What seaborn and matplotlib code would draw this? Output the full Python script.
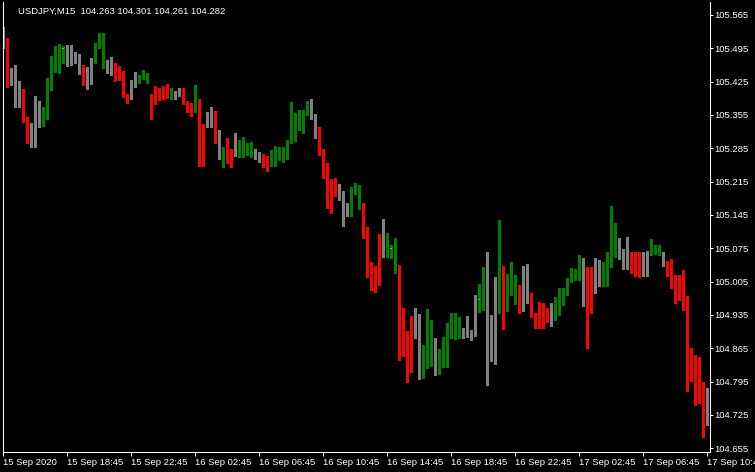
import matplotlib
matplotlib.use('Agg')
import numpy as np
import pandas as pd
import matplotlib.pyplot as plt
import seaborn as sns

# USDJPY M15 bars, 15 Sep 14:45 .. 17 Sep 10:45
kinds = list(
    "nrnnnrrnnn" "gggggdnnnn" "rnngggnnrr" "rrnngggrrr" "rrgnnrrrgr"
    "rnnrngrrng" "gggnnrrggg" "gggggggnnr" "rrrrnnnggg" "rrrrrngdgr"
    "rrrnngggng" "gggggnnnnd" "gnnngrgggr" "nnrrrrrngg" "gggggnrrnn"
    "ggggnnnrrr" "nngggnrrrr" "rrrrrrn"
)

highs = [
    105.540, 105.517, 105.454, 105.460, 105.426, 105.410, 105.351, 105.338, 105.395, 105.384,
    105.372, 105.433, 105.479, 105.500, 105.504, 105.500, 105.502, 105.502, 105.487, 105.483,
    105.460, 105.456, 105.475, 105.506, 105.527, 105.527, 105.470, 105.477, 105.464, 105.458,
    105.447, 105.399, 105.428, 105.445, 105.439, 105.450, 105.443, 105.399, 105.416, 105.412,
    105.416, 105.420, 105.412, 105.405, 105.412, 105.412, 105.384, 105.380, 105.418, 105.389,
    105.336, 105.361, 105.372, 105.363, 105.323, 105.288, 105.307, 105.284, 105.317, 105.302,
    105.309, 105.296, 105.298, 105.284, 105.277, 105.273, 105.269, 105.281, 105.290, 105.288,
    105.288, 105.302, 105.382, 105.359, 105.365, 105.365, 105.384, 105.389, 105.357, 105.330,
    105.284, 105.254, 105.221, 105.223, 105.210, 105.195, 105.170, 105.204, 105.212, 105.208,
    105.170, 105.120, 105.046, 105.038, 105.105, 105.137, 105.107, 105.082, 105.097, 105.040,
    104.950, 104.901, 104.933, 104.950, 104.937, 104.872, 104.948, 104.924, 104.887, 104.864,
    104.889, 104.918, 104.939, 104.939, 104.931, 104.908, 104.933, 104.903, 104.977, 105.000,
    105.036, 105.067, 104.935, 105.015, 105.134, 105.038, 105.021, 105.046, 105.019, 104.998,
    105.038, 105.042, 104.981, 104.939, 104.962, 104.960, 104.950, 104.960, 104.973, 104.992,
    104.992, 105.013, 105.034, 105.032, 105.061, 105.055, 105.036, 105.036, 105.055, 105.050,
    105.046, 105.067, 105.164, 105.128, 105.097, 105.074, 105.099, 105.067, 105.067, 105.067,
    105.067, 105.069, 105.095, 105.082, 105.082, 105.067, 105.048, 105.053, 105.019, 105.019,
    105.029, 104.975, 104.866, 104.851, 104.847, 104.794, 104.782,
]

lows = [
    105.496, 105.414, 105.418, 105.372, 105.372, 105.340, 105.296, 105.288, 105.288, 105.330,
    105.332, 105.347, 105.407, 105.445, 105.443, 105.464, 105.458, 105.460, 105.464, 105.441,
    105.418, 105.410, 105.420, 105.464, 105.496, 105.454, 105.443, 105.439, 105.426, 105.428,
    105.393, 105.380, 105.389, 105.414, 105.422, 105.431, 105.422, 105.347, 105.378, 105.386,
    105.389, 105.391, 105.389, 105.389, 105.395, 105.378, 105.361, 105.353, 105.361, 105.248,
    105.248, 105.330, 105.330, 105.296, 105.263, 105.246, 105.254, 105.246, 105.269, 105.267,
    105.267, 105.271, 105.267, 105.263, 105.256, 105.246, 105.237, 105.248, 105.248, 105.260,
    105.256, 105.263, 105.296, 105.300, 105.323, 105.317, 105.355, 105.347, 105.307, 105.271,
    105.223, 105.160, 105.149, 105.185, 105.176, 105.122, 105.143, 105.143, 105.189, 105.158,
    105.097, 105.015, 104.987, 104.983, 104.998, 105.057, 105.057, 105.055, 105.023, 104.840,
    104.849, 104.794, 104.815, 104.887, 104.801, 104.803, 104.824, 104.828, 104.809, 104.811,
    104.826, 104.826, 104.887, 104.885, 104.887, 104.887, 104.889, 104.882, 104.891, 104.941,
    104.945, 104.788, 104.838, 104.832, 104.939, 104.906, 104.943, 104.977, 104.958, 104.939,
    104.943, 104.960, 104.931, 104.908, 104.908, 104.908, 104.920, 104.912, 104.924, 104.935,
    104.956, 104.977, 105.004, 105.008, 105.008, 104.954, 104.866, 104.939, 104.981, 104.996,
    104.996, 104.996, 105.036, 105.057, 105.053, 105.032, 105.032, 105.023, 105.017, 105.015,
    105.017, 105.017, 105.061, 105.063, 105.061, 105.038, 105.017, 104.992, 104.960, 104.966,
    104.945, 104.775, 104.796, 104.746, 104.750, 104.679, 104.704,
]

opens = [
    105.527, 105.517, 105.437, 105.443, 105.393, 105.393, 105.351, 105.334, 105.347, 105.351,
    105.353, 105.355, 105.414, 105.454, 105.468, 105.496, 105.500, 105.500, 105.475, 105.473,
    105.445, 105.445, 105.475, 105.475, 105.498, 105.458, 105.464, 105.462, 105.452, 105.450,
    105.445, 105.399, 105.422, 105.431, 105.431, 105.435, 105.424, 105.391, 105.399, 105.395,
    105.407, 105.407, 105.391, 105.401, 105.407, 105.410, 105.382, 105.363, 105.361, 105.386,
    105.332, 105.353, 105.353, 105.336, 105.319, 105.271, 105.286, 105.273, 105.279, 105.277,
    105.275, 105.275, 105.269, 105.271, 105.271, 105.263, 105.267, 105.252, 105.252, 105.267,
    105.265, 105.265, 105.298, 105.340, 105.328, 105.328, 105.361, 105.370, 105.353, 105.326,
    105.275, 105.235, 105.204, 105.204, 105.204, 105.183, 105.166, 105.147, 105.200, 105.168,
    105.168, 105.103, 105.034, 105.023, 105.103, 105.101, 105.067, 105.076, 105.036, 105.038,
    104.872, 104.872, 104.914, 104.935, 104.935, 104.824, 104.834, 104.836, 104.834, 104.813,
    104.843, 104.847, 104.908, 104.918, 104.901, 104.901, 104.895, 104.897, 104.966, 104.969,
    104.954, 104.958, 104.910, 104.948, 104.948, 104.996, 104.981, 104.981, 104.981, 104.998,
    105.036, 105.036, 104.966, 104.916, 104.962, 104.958, 104.937, 104.960, 104.954, 104.954,
    104.981, 104.981, 105.008, 105.011, 105.011, 105.050, 104.962, 105.019, 105.040, 105.040,
    105.013, 105.015, 105.055, 105.082, 105.086, 105.065, 105.065, 105.055, 105.057, 105.059,
    105.044, 105.069, 105.067, 105.065, 105.063, 105.063, 105.044, 105.019, 104.994, 105.019,
    105.019, 104.950, 104.843, 104.843, 104.824, 104.792, 104.756,
]

closes = [
    105.517, 105.424, 105.426, 105.389, 105.389, 105.351, 105.332, 105.305, 105.305, 105.344,
    105.357, 105.416, 105.456, 105.470, 105.496, 105.496, 105.492, 105.468, 105.468, 105.443,
    105.443, 105.422, 105.422, 105.496, 105.523, 105.523, 105.460, 105.443, 105.443, 105.445,
    105.397, 105.393, 105.397, 105.420, 105.435, 105.441, 105.441, 105.347, 105.380, 105.393,
    105.393, 105.393, 105.393, 105.393, 105.397, 105.380, 105.363, 105.359, 105.389, 105.296,
    105.296, 105.332, 105.334, 105.319, 105.271, 105.286, 105.265, 105.265, 105.273, 105.284,
    105.286, 105.292, 105.292, 105.269, 105.260, 105.248, 105.248, 105.267, 105.288, 105.286,
    105.273, 105.300, 105.340, 105.351, 105.361, 105.363, 105.370, 105.351, 105.326, 105.275,
    105.235, 105.170, 105.170, 105.202, 105.183, 105.164, 105.147, 105.200, 105.204, 105.204,
    105.101, 105.032, 105.019, 105.002, 105.002, 105.069, 105.076, 105.076, 105.076, 104.866,
    104.866, 104.834, 104.834, 104.912, 104.824, 104.840, 104.908, 104.908, 104.813, 104.847,
    104.849, 104.908, 104.929, 104.929, 104.920, 104.889, 104.891, 104.891, 104.895, 104.969,
    104.966, 104.891, 104.889, 104.908, 104.996, 104.981, 105.008, 105.011, 104.990, 104.987,
    104.996, 104.964, 104.931, 104.908, 104.908, 104.922, 104.922, 104.935, 104.960, 104.987,
    104.987, 105.011, 105.029, 105.029, 105.050, 104.960, 104.950, 104.950, 105.019, 105.013,
    105.017, 105.055, 105.128, 105.128, 105.055, 105.057, 105.034, 105.034, 105.055, 105.023,
    105.023, 105.042, 105.078, 105.078, 105.067, 105.042, 105.019, 104.994, 104.969, 104.969,
    104.948, 104.801, 104.798, 104.822, 104.792, 104.708, 104.708,
]

time_labels = ["15 Sep 2020", "15 Sep 18:45", "15 Sep 22:45", "16 Sep 02:45",
               "16 Sep 06:45", "16 Sep 10:45", "16 Sep 14:45", "16 Sep 18:45",
               "16 Sep 22:45", "17 Sep 02:45", "17 Sep 06:45", "17 Sep 10:45"]
price_ticks = [105.565, 105.495, 105.425, 105.355, 105.285, 105.215, 105.145,
               105.075, 105.005, 104.935, 104.865, 104.795, 104.725, 104.655]
title = "USDJPY,M15  104.263 104.301 104.261 104.282"

df = pd.DataFrame({"open": opens, "high": highs, "low": lows,
                   "close": closes, "kind": kinds})
df["bar"] = np.arange(len(df))

palette = {"g": "#008000", "r": "#ff0000", "n": "#808080", "d": "#008000"}
df["color"] = df["kind"].map(palette)

sns.set_theme(style="dark", rc={"axes.facecolor": "black",
                                "figure.facecolor": "black",
                                "savefig.facecolor": "black"})
plt.rcParams["font.family"] = ["Liberation Sans", "DejaVu Sans"]

fig = plt.figure(figsize=(7.55, 4.72), dpi=100)
ax = fig.add_axes([2.5 / 755, 20 / 472, 707 / 755, 450 / 472])
ax.set_facecolor("black")
ax.grid(False)

# wicks
ax.vlines(df["bar"], df["low"], df["high"], colors=df["color"],
          linewidth=0.75, antialiased=False)

# bodies
body = df[df["kind"] != "d"]
lo = np.minimum(body["open"], body["close"])
h = np.maximum((body["close"] - body["open"]).abs(), 0.0021)
ax.bar(body["bar"], h, bottom=lo, width=0.75, color=body["color"],
       linewidth=0, antialiased=False)

# doji marks
doji = df[df["kind"] == "d"]
ax.hlines(doji["open"], doji["bar"] - 0.375, doji["bar"] + 0.375,
          colors="#00ff00", linewidth=0.75, linestyles=(0, (1, 1)),
          antialiased=False)

ax.set_xlim(-0.125, 176.625)
ax.set_ylim(104.6473, 105.5923)

ax.set_xticks(np.arange(0, 177, 16))
ax.set_xticklabels(time_labels, ha="left")
ax.yaxis.tick_right()
ax.set_yticks(price_ticks)
ax.set_yticklabels([f"{p:.3f}" for p in price_ticks])

ax.tick_params(axis="x", bottom=True, direction="out", length=3, width=0.75,
               color="white", labelcolor="white", labelsize=6.8, pad=1.5)
ax.tick_params(axis="y", right=True, left=False, direction="out", length=2.2,
               width=0.75, color="white", labelcolor="white", labelsize=6.8,
               pad=1.5)

for side in ["left", "right", "bottom"]:
    ax.spines[side].set_color("white")
    ax.spines[side].set_linewidth(0.75)
ax.spines["top"].set_visible(False)

fig.text(18 / 755, 1 - 11 / 472, title, color="white", fontsize=6.8,
         ha="left", va="center")

fig.savefig("out.png", dpi=100, facecolor="black")
